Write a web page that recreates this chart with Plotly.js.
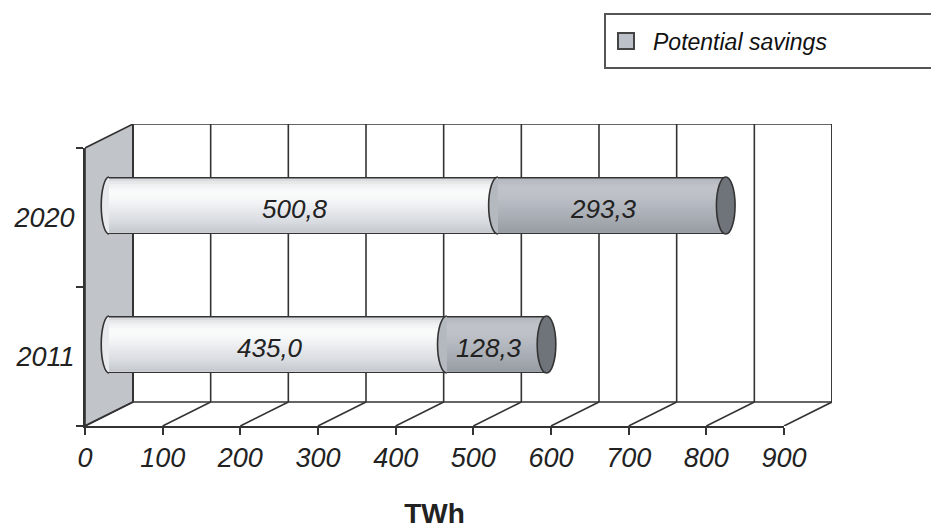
<!DOCTYPE html>
<html><head><meta charset="utf-8">
<script src="https://cdn.plot.ly/plotly-3.0.1.min.js"></script>
<style>html,body{margin:0;padding:0;background:#fff}#chart{width:931px;height:529px}</style>
</head><body><div id="chart"></div>
<script>
// ---------- data ----------
const years = ['2011', '2020'];
const consumption = [435.0, 500.8];
const savings = [128.3, 293.3];
const xTicks = [0, 100, 200, 300, 400, 500, 600, 700, 800, 900];
const seriesNames = ['Consumption', 'Potential savings'];
const axisTitle = 'TWh';

// ---------- geometry / style ----------
const W = 931, H = 529;
const FRONT = {l: 85, r: 784, t: 148, b: 426};   // front plane in px
const DEPTH = {x: 48, y: 24};                     // 3D depth offset in px
const XMAX = xTicks[xTicks.length - 1];
const unitX = (FRONT.r - FRONT.l) / XMAX;
const unitY = (FRONT.b - FRONT.t) / years.length;
const DX = DEPTH.x / unitX, DY = DEPTH.y / unitY;
const BAR_H = 57 / unitY;
const OUT = 1.6 / unitY;
const FONT = 'Liberation Sans, Arial, sans-serif';
const LINE = '#333333';

const baseStops = [[0,'#d2d5d9'],[0.1,'#eceef0'],[0.25,'#fbfbfb'],[0.4,'#f5f6f7'],[0.6,'#e6e8eb'],[0.8,'#d8dbdf'],[1,'#c5c8cd']];
const savStops = [[0,'#b3b7be'],[0.15,'#c0c4ca'],[0.35,'#bcc0c6'],[0.6,'#aeb2b9'],[0.85,'#a1a5ac'],[1,'#979ba2']];
function hex2rgb(h){return [1,3,5].map(i=>parseInt(h.substr(i,2),16));}
function colorAt(stops,t){
  for(let i=1;i<stops.length;i++){
    if(t<=stops[i][0]){
      const a=stops[i-1],b=stops[i];const f=(t-a[0])/(b[0]-a[0]);
      const ca=hex2rgb(a[1]),cb=hex2rgb(b[1]);
      return 'rgb('+ca.map((v,k)=>Math.round(v+(cb[k]-v)*f)).join(',')+')';
    }
  }
  return stops[stops.length-1][1];
}

const pos = years.map((y,i)=>i + DY/2);           // mid-depth positions of the cylinders
const savBase = consumption.map(v=>DX/2 + v);
const baseBase = consumption.map(()=>DX/2);

const traces = [];
// front subplot dummy (registers categories)
traces.push({type:'scatter', x: years.map(()=>null), y: years, xaxis:'x', yaxis:'y', mode:'markers', showlegend:false, hoverinfo:'skip'});
// legend entry
traces.push({type:'scatter', x:[null], y:[null], xaxis:'x', yaxis:'y', mode:'markers', name: seriesNames[1], legendgroup:'sav',
  marker:{symbol:'square', size:16, color:'#bcc0c8', line:{color:'#444', width:2}}, showlegend:true, hoverinfo:'skip'});

function cylinder(values, bases, stops, name){
  // outline (full height, dark)
  traces.push({type:'bar', orientation:'h', name:name, x: values, y: pos, base: bases, offset: -BAR_H/2, width: BAR_H,
    xaxis:'x2', yaxis:'y2', marker:{color: LINE, line:{width:0}}, showlegend:false, hoverinfo:'x+name'});
  // nested shading bands: each band spans from its top down to the inner bottom, painted over the previous
  const K = 20;
  const inner = BAR_H - 2*OUT;
  const s = inner / K;
  const bottom = -BAR_H/2 + OUT;
  for(let k=0;k<K;k++){
    const t = (k+0.5)/K;
    const h = inner - k*s;
    traces.push({type:'bar', orientation:'h', name:name, x: values, y: pos, base: bases,
      offset: bottom, width: h,
      xaxis:'x2', yaxis:'y2', marker:{color: colorAt(stops,t), line:{width:0}}, showlegend:false, hoverinfo:'skip'});
  }
}
cylinder(consumption, baseBase, baseStops, seriesNames[0]);
cylinder(savings, savBase, savStops, seriesNames[1]);

// ---------- shapes ----------
const shapes = [];
// left wall
shapes.push({type:'path', layer:'below', xref:'x2', yref:'y2',
  path:`M0,-0.5 L${DX},${-0.5+DY} L${DX},${1.5+DY} L0,1.5 Z`, fillcolor:'#c1c4c9', line:{color:LINE, width:1.6}});
// back wall frame + grid
shapes.push({type:'rect', layer:'below', xref:'x2', yref:'y2', x0:DX, x1:XMAX+DX, y0:-0.5+DY, y1:1.5+DY, line:{color:LINE, width:1.6}});
xTicks.forEach(v=>{
  shapes.push({type:'line', layer:'below', xref:'x2', yref:'y2', x0:v+DX, x1:v+DX, y0:-0.5+DY, y1:1.5+DY, line:{color:LINE, width:1.6}});
  shapes.push({type:'line', layer:'below', xref:'x2', yref:'y2', x0:v, x1:v+DX, y0:-0.5, y1:-0.5+DY, line:{color:LINE, width:1.6}});
});
// caps
function halfLeft(cx, cy, rx, ry){
  const k=0.5523;
  return `M${cx},${cy+ry} C${cx-k*rx},${cy+ry} ${cx-rx},${cy+k*ry} ${cx-rx},${cy} C${cx-rx},${cy-k*ry} ${cx-k*rx},${cy-ry} ${cx},${cy-ry}`;
}
const ry = BAR_H/2;
years.forEach((y,i)=>{
  shapes.push({type:'path', layer:'above', xref:'x2', yref:'y2', path: halfLeft(baseBase[i], pos[i], 10, ry), fillcolor:'#e8eaed', line:{color:LINE, width:1.6}});
  shapes.push({type:'path', layer:'above', xref:'x2', yref:'y2', path: halfLeft(savBase[i], pos[i], 12, ry), fillcolor:'#b4b8bf', line:{color:LINE, width:1.6}});
  const end = savBase[i] + savings[i];
  shapes.push({type:'circle', layer:'above', xref:'x2', yref:'y2', x0:end-12, x1:end+12, y0:pos[i]-ry, y1:pos[i]+ry, fillcolor:'#6f737a', line:{color:LINE, width:1.6}});
});
// legend box
shapes.push({type:'rect', xref:'paper', yref:'paper', x0:605/W, x1:1.05, y0:1-68/H, y1:1-14/H, line:{color:'#555', width:2}, fillcolor:'rgba(0,0,0,0)'});

// ---------- annotations (value labels) ----------
const fmt = v => v.toFixed(1).replace('.', ',');
const annotations = [];
years.forEach((y,i)=>{
  annotations.push({xref:'x2', yref:'y2', x: baseBase[i] + consumption[i]/2, y: pos[i], text: fmt(consumption[i]), showarrow:false, xshift:-8, yshift:-3,
    font:{family:FONT, size:26, style:'italic', color:'#222'}});
  annotations.push({xref:'x2', yref:'y2', x: savBase[i] + savings[i]/2, y: pos[i], text: fmt(savings[i]), showarrow:false, xshift:-8, yshift:-3,
    font:{family:FONT, size:26, style:'italic', color:'#222'}});
});

const layout = {
  width: W, height: H, autosize:false,
  margin:{l:0, r:0, t:0, b:0, pad:0},
  paper_bgcolor:'#ffffff', plot_bgcolor:'rgba(0,0,0,0)',
  barmode:'overlay',
  font:{family:FONT, color:'#222'},
  xaxis:{domain:[FRONT.l/W, FRONT.r/W], range:[0, XMAX], tickmode:'array', tickvals:xTicks, ticktext:xTicks.map(String),
    ticks:'outside', ticklen:7, tickwidth:2, tickcolor:LINE, showline:true, linewidth:2, linecolor:LINE,
    showgrid:false, zeroline:false, tickfont:{family:FONT, size:27, style:'italic', color:'#222'},
    title:{text:axisTitle, font:{family:FONT, size:28, weight:'bold', color:'#222'}, standoff:34}, automargin:false, anchor:'y', fixedrange:true},
  yaxis:{domain:[(H-FRONT.b)/H, (H-FRONT.t)/H], type:'category', categoryorder:'array', categoryarray:years, range:[-0.5, years.length-0.5],
    tickson:'boundaries', ticks:'outside', ticklen:7, tickwidth:2, tickcolor:LINE, showline:true, linewidth:2, linecolor:LINE, ticklabelstandoff:3,
    showgrid:false, zeroline:false, tickfont:{family:FONT, size:27, style:'italic', color:'#222'}, automargin:false, anchor:'x', fixedrange:true},
  xaxis2:{domain:[FRONT.l/W, (FRONT.r+DEPTH.x)/W], range:[0, XMAX+DX], visible:false, anchor:'y2', fixedrange:true},
  yaxis2:{domain:[(H-FRONT.b)/H, (H-FRONT.t+DEPTH.y)/H], range:[-0.5, years.length-0.5+DY], visible:false, anchor:'x2', fixedrange:true},
  shapes: shapes,
  annotations: annotations,
  showlegend:true,
  legend:{x:599/W, y:1-41/H, xanchor:'left', yanchor:'middle', bgcolor:'rgba(0,0,0,0)', borderwidth:0, itemwidth:44,
    font:{family:FONT, size:23, style:'italic', color:'#111'}}
};

Plotly.newPlot('chart', traces, layout, {displayModeBar:false, staticPlot:true});
</script>
</body></html>
